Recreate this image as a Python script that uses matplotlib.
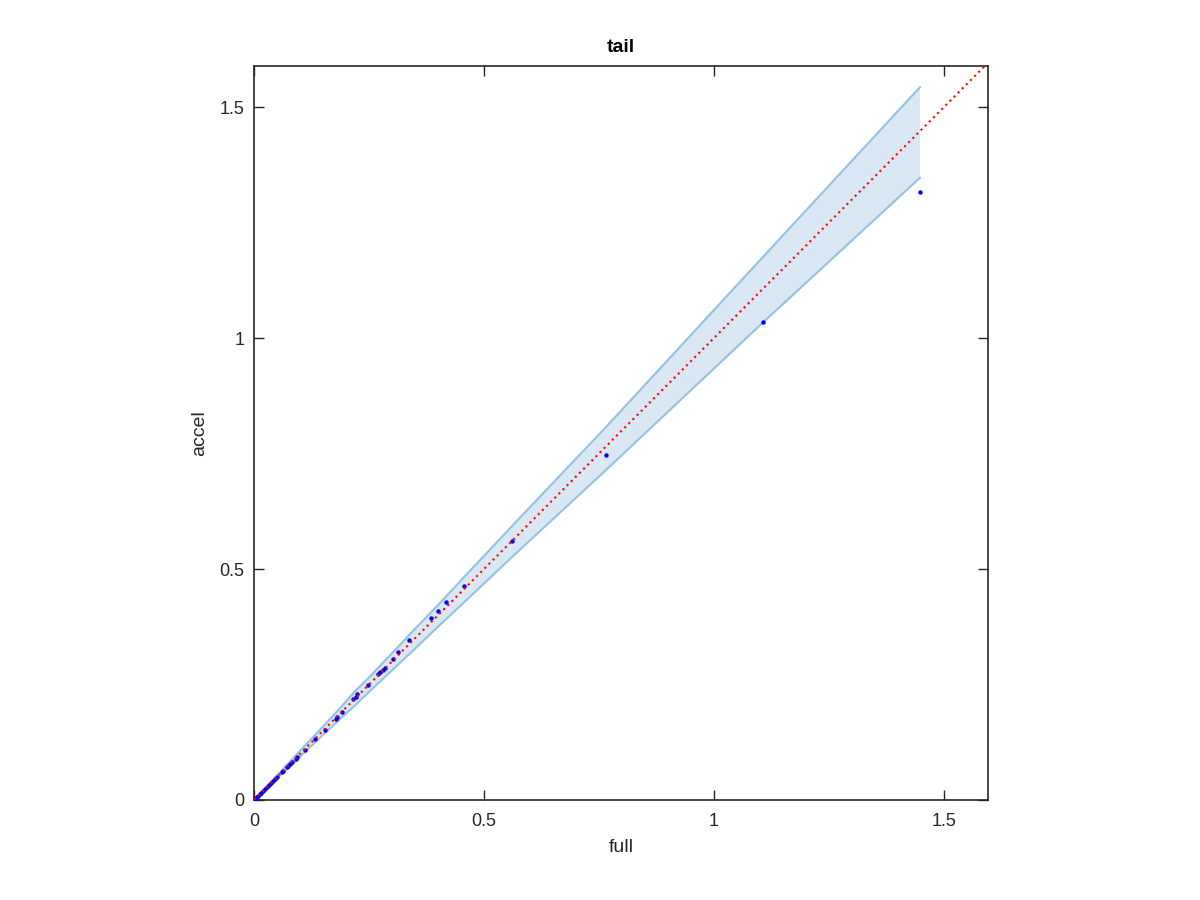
import matplotlib
matplotlib.use("Agg")
import matplotlib.pyplot as plt

# Data points (full vs accel)
full = [1.448, 1.107, 0.765, 0.560, 0.4565, 0.4167, 0.4007, 0.385, 0.3377, 0.313,
        0.303, 0.285, 0.280, 0.275, 0.270, 0.248, 0.225, 0.222, 0.216, 0.191,
        0.181, 0.178, 0.1536, 0.1333, 0.111, 0.0935, 0.0906, 0.082, 0.078, 0.073,
        0.071, 0.062, 0.060, 0.049, 0.045, 0.041, 0.036, 0.032, 0.028, 0.024,
        0.020, 0.016, 0.012, 0.009, 0.006, 0.004, 0.002, 0.001, 0.0]
accel = [1.316, 1.035, 0.747, 0.561, 0.4625, 0.4286, 0.4098, 0.3946, 0.347, 0.3196,
         0.305, 0.285, 0.281, 0.278, 0.273, 0.250, 0.229, 0.224, 0.219, 0.191,
         0.179, 0.175, 0.152, 0.1328, 0.108, 0.0924, 0.0887, 0.0815, 0.078, 0.074,
         0.072, 0.063, 0.060, 0.050, 0.045, 0.041, 0.037, 0.032, 0.028, 0.024,
         0.020, 0.016, 0.012, 0.009, 0.006, 0.004, 0.002, 0.001, 0.0]

# Confidence band
band_x = [0, 0.02, 0.05, 0.08, 0.11, 0.15, 0.19, 0.22, 0.25, 0.28, 0.31, 0.34,
          0.40, 0.46, 0.56, 0.765, 1.107, 1.448]
band_upper = [0, 0.021, 0.053, 0.085, 0.117, 0.159, 0.202, 0.236, 0.265, 0.297,
              0.328, 0.360, 0.422, 0.486, 0.592, 0.807, 1.176, 1.543]
band_lower = [0, 0.019, 0.047, 0.075, 0.103, 0.141, 0.178, 0.205, 0.234, 0.262,
              0.290, 0.318, 0.375, 0.431, 0.525, 0.714, 1.034, 1.347]

# Identity line
ref_x = [0, 1.59]
ref_y = [0, 1.59]

ticks = [0, 0.5, 1, 1.5]
tick_labels = ["0", "0.5", "1", "1.5"]

plt.rcParams['font.family'] = ['Liberation Sans', 'DejaVu Sans']

fig = plt.figure(figsize=(12, 9), dpi=100)
ax = fig.add_axes([254/1200, 100/900, 734/1200, 734/900])

ax.fill_between(band_x, band_lower, band_upper, facecolor='#d9e8f4', edgecolor='none', zorder=1)
ax.plot(band_x, band_upper, color='#92c2e0', lw=1.5, zorder=2)
ax.plot(band_x, band_lower, color='#92c2e0', lw=1.5, zorder=2)

ax.plot(full, accel, 'o', color='blue', markersize=3.2, markeredgewidth=0, zorder=3)
ax.plot(ref_x, ref_y, linestyle=(0, (1.0, 1.8)), color='red', lw=1.5, zorder=4)

ax.set_xlim(0, 1.596)
ax.set_ylim(0, 1.589)
ax.set_xticks(ticks)
ax.set_xticklabels(tick_labels)
ax.set_yticks(ticks)
ax.set_yticklabels(tick_labels)
ax.tick_params(direction='in', length=7, width=1.0, top=True, right=True,
               labelsize=13, colors='#262626')
ax.tick_params(axis='x', pad=9)
ax.tick_params(axis='y', pad=7)
for s in ax.spines.values():
    s.set_color('#262626')
    s.set_linewidth(1.2)

ax.set_xlabel('full', fontsize=14, color='#262626', labelpad=7)
ax.set_ylabel('accel', fontsize=14, color='#262626', labelpad=8)
ax.set_title('tail', fontsize=14, fontweight='bold', color='black', pad=10)

fig.savefig('out.png', dpi=100)
